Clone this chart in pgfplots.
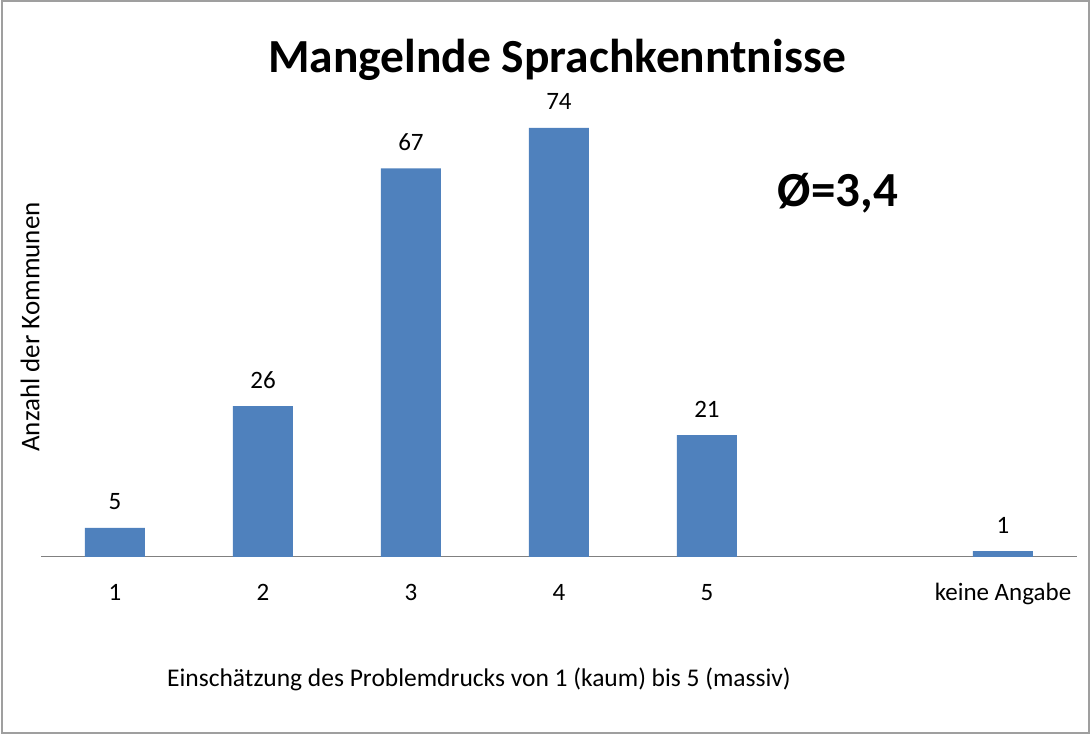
\documentclass[border=0pt]{standalone}
\usepackage{pgfplots}
\pgfplotsset{compat=1.18}
\usepackage{fontspec}
\setmainfont{Carlito}
\definecolor{barblue}{HTML}{4F81BD}
\begin{document}
\begin{tikzpicture}[x=1pt,y=1pt]
\useasboundingbox (-41,-178) rectangle (1050,557);
\draw[gray!75,line width=1.5pt] (-39,-176) rectangle (1048,556);
\begin{axis}[
  at={(0,0)}, anchor=origin,
  scale only axis, width=1036pt, height=464pt,
  xmin=0.5, xmax=7.5, ymin=0, ymax=80,
  axis x line=bottom, axis y line=none,
  x axis line style={-, draw=gray, line width=1pt},
  xtick={1,2,3,4,5,7},
  xticklabels={1,2,3,4,5,keine Angabe},
  major tick length=0pt,
  xticklabel style={anchor=base, yshift=-44pt, font=\fontsize{25}{30}\selectfont},
  ytick=\empty,
  /pgf/number format/assume math mode=true,
  nodes near coords,
  nodes near coords style={anchor=base, yshift=18pt, font=\fontsize{25}{30}\selectfont},
  clip=false,
]
\addplot[ybar, bar width=60pt, fill=barblue, draw=none] coordinates {
  (1,5) (2,26) (3,67) (4,74) (5,21) (7,1)
};
\end{axis}
\node[font=\fontsize{47.5}{56}\selectfont\bfseries] at (516,497) {Mangelnde Sprachkenntnisse};
\node[font=\fontsize{49}{58}\selectfont\bfseries] at (797,364) {Ø=3,4};
\node[font=\fontsize{27}{32}\selectfont, rotate=90] at (-11,230) {Anzahl der Kommunen};
\node[font=\fontsize{25.5}{30}\selectfont, anchor=base] at (438,-129) {Einschätzung des Problemdrucks von 1 (kaum) bis 5 (massiv)};
\end{tikzpicture}
\end{document}
